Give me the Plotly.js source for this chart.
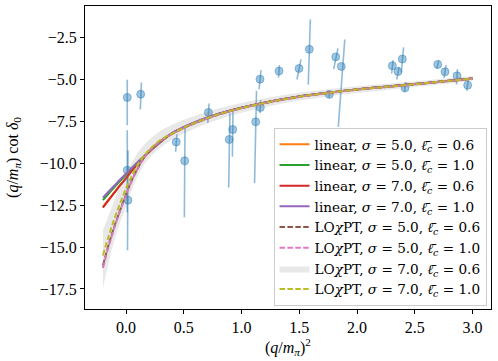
<!DOCTYPE html>
<html><head><meta charset="utf-8">
<script src="https://cdn.plot.ly/plotly-3.0.1.min.js"></script>
<style>html,body{margin:0;padding:0;background:#fff}#chart{width:498px;height:361px}</style>
</head><body><div id="chart"></div>
<script>
// lattice data points
const ptX = [0.011, 0.127, 0.011, 0.017, 0.435, 0.508, 0.713, 0.894, 0.924, 1.123, 1.163, 1.160, 1.325, 1.498, 1.587, 1.760, 1.816, 1.864, 2.306, 2.355, 2.392, 2.416, 2.699, 2.762, 2.866, 2.958];
const ptY = [-6.06, -5.87, -10.41, -12.20, -8.72, -9.85, -6.96, -8.57, -7.98, -7.52, -6.66, -4.97, -4.49, -4.33, -3.19, -5.88, -3.64, -4.21, -4.17, -4.51, -3.77, -5.49, -4.09, -4.53, -4.77, -5.33];
// correlated uncertainty segments (upper and lower ends)
const errHiX = [0.011, 0.133, 0.011, 0.017, 0.441, 0.511, 0.719, 0.900, 0.926, 1.130, 1.166, 1.169, 1.329, 1.515, 1.596, 1.762, 1.835, 1.894, 2.312, 2.364, 2.403, 2.422, 2.708, 2.771, 2.870, 2.966];
const errHiY = [-5.00, -5.17, -8.02, -9.21, -8.26, -7.90, -6.42, -7.00, -6.82, -5.67, -6.22, -4.43, -4.13, -3.79, -1.40, -5.68, -3.13, -2.60, -3.83, -4.23, -3.07, -5.13, -3.83, -4.13, -4.37, -4.93];
const errLoX = [0.011, 0.124, 0.011, 0.013, 0.430, 0.505, 0.708, 0.889, 0.921, 1.113, 1.160, 1.152, 1.320, 1.480, 1.578, 1.758, 1.798, 1.838, 2.300, 2.344, 2.383, 2.410, 2.690, 2.753, 2.861, 2.949];
const errLoY = [-7.72, -6.78, -12.93, -15.19, -9.31, -13.22, -7.58, -11.44, -9.61, -11.17, -7.00, -5.57, -4.87, -4.99, -5.29, -6.07, -4.37, -7.82, -4.63, -4.99, -4.57, -5.76, -4.37, -4.89, -5.29, -5.67];

// fitted curves
const curveX = [-0.2, -0.15, -0.1, -0.05, 0, 0.05, 0.1, 0.15, 0.2, 0.3, 0.4, 0.5, 0.6, 0.8, 1.0, 1.25, 1.5, 1.75, 2.0, 2.25, 2.5, 2.75, 3.0];
const linS5L06 = [-12.6, -12.15, -11.72, -11.28, -10.88, -10.44, -10.04, -9.66, -9.31, -8.71, -8.2, -7.85, -7.55, -7.05, -6.68, -6.3, -6.0, -5.78, -5.58, -5.42, -5.26, -5.1, -4.93];
const linS5L10 = [-12.2, -11.8, -11.42, -11.04, -10.68, -10.3, -9.95, -9.62, -9.3, -8.7, -8.2, -7.85, -7.55, -7.05, -6.68, -6.3, -6.0, -5.78, -5.58, -5.42, -5.26, -5.1, -4.93];
const linS7L06 = [-12.65, -12.2, -11.75, -11.3, -10.9, -10.45, -10.05, -9.67, -9.32, -8.72, -8.2, -7.85, -7.55, -7.05, -6.68, -6.3, -6.0, -5.78, -5.58, -5.42, -5.26, -5.1, -4.93];
const linS7L10 = [-12.05, -11.68, -11.32, -10.96, -10.62, -10.27, -9.93, -9.6, -9.29, -8.69, -8.18, -7.83, -7.53, -7.04, -6.67, -6.3, -6.0, -5.78, -5.58, -5.42, -5.26, -5.1, -4.93];
const loS5L06 = [-16.1, -14.85, -13.75, -12.78, -11.85, -11.02, -10.32, -9.72, -9.27, -8.64, -8.24, -7.89, -7.59, -7.09, -6.71, -6.33, -6.03, -5.8, -5.6, -5.44, -5.28, -5.11, -4.95];
const loS5L10 = [-16.25, -14.95, -13.82, -12.82, -11.88, -11.04, -10.33, -9.73, -9.27, -8.64, -8.24, -7.89, -7.59, -7.09, -6.71, -6.33, -6.03, -5.8, -5.6, -5.44, -5.28, -5.11, -4.95];
const loS7L06Lo = [-17.5, -15.9, -14.6, -13.5, -12.6, -11.6, -10.8, -10.15, -9.7, -9.05, -8.58, -8.22, -7.9, -7.38, -6.98, -6.58, -6.25, -6.0, -5.8, -5.62, -5.44, -5.26, -5.1];
const loS7L06Hi = [-14.0, -13.1, -12.2, -11.3, -10.6, -9.95, -9.4, -8.95, -8.6, -8.05, -7.7, -7.4, -7.15, -6.73, -6.4, -6.05, -5.78, -5.57, -5.39, -5.24, -5.09, -4.94, -4.78];
const loS7L10 = [-15.5, -14.35, -13.3, -12.38, -11.5, -10.75, -10.1, -9.6, -9.2, -8.6, -8.22, -7.87, -7.57, -7.07, -6.7, -6.32, -6.02, -5.79, -5.59, -5.43, -5.27, -5.1, -4.94];

const labels = [
  'linear, <i>σ</i> = 5.0, <i>ℓ̄</i><sub><i>c</i></sub> = 0.6',
  'linear, <i>σ</i> = 5.0, <i>ℓ̄</i><sub><i>c</i></sub> = 1.0',
  'linear, <i>σ</i> = 7.0, <i>ℓ̄</i><sub><i>c</i></sub> = 0.6',
  'linear, <i>σ</i> = 7.0, <i>ℓ̄</i><sub><i>c</i></sub> = 1.0',
  'LO<i>χ</i>PT, <i>σ</i> = 5.0, <i>ℓ̄</i><sub><i>c</i></sub> = 0.6',
  'LO<i>χ</i>PT, <i>σ</i> = 5.0, <i>ℓ̄</i><sub><i>c</i></sub> = 1.0',
  'LO<i>χ</i>PT, <i>σ</i> = 7.0, <i>ℓ̄</i><sub><i>c</i></sub> = 0.6',
  'LO<i>χ</i>PT, <i>σ</i> = 7.0, <i>ℓ̄</i><sub><i>c</i></sub> = 1.0'
];
const xTitle = '(<i>q</i>/<i>m</i><sub><i>π</i></sub>)<sup>2</sup>';
const yTitle = '(<i>q</i>/<i>m</i><sub><i>π</i></sub>) cot <i>δ</i><sub>0</sub>';

const blueA = 'rgba(31,119,180,0.42)';
const segX = [], segY = [];
for (let i = 0; i < ptX.length; i++) {
  segX.push(errLoX[i], errHiX[i], null);
  segY.push(errLoY[i], errHiY[i], null);
}
const traces = [];
traces.push({x: segX, y: segY, mode: 'lines', line: {color: 'rgba(31,119,180,0.5)', width: 1.6}, showlegend: false, hoverinfo: 'skip'});
traces.push({x: ptX, y: ptY, mode: 'markers', marker: {size: 8, color: blueA, line: {color: blueA, width: 1}}, showlegend: false});

function line(y, color, name, dash) {
  return {x: curveX, y: y, mode: 'lines', name: name,
    line: {color: color, width: 2, shape: 'spline', dash: dash || 'solid'}};
}
const dsh = '5.5px,2.4px';
traces.push(line(linS5L06, '#ff7f0e', labels[0]));
traces.push(line(linS5L10, '#2ca02c', labels[1]));
traces.push(line(linS7L06, '#d62728', labels[2]));
traces.push(line(linS7L10, '#9467bd', labels[3]));
traces.push(line(loS5L06, '#8c564b', labels[4], dsh));
traces.push(line(loS5L10, '#e377c2', labels[5], dsh));
traces.push({x: curveX, y: loS7L06Lo, mode: 'lines', line: {width: 0, shape: 'spline'}, showlegend: false, hoverinfo: 'skip'});
traces.push({x: curveX, y: loS7L06Hi, mode: 'lines', fill: 'tonexty', fillcolor: 'rgba(128,128,128,0.18)',
  line: {width: 0, shape: 'spline', color: 'rgba(128,128,128,0.18)'}, name: labels[6]});
traces.push(line(loS7L10, '#bcbd22', labels[7], dsh));

const fam = 'Liberation Serif, DejaVu Serif, serif';
const fnt = {family: fam, size: 16, color: '#000'};
const layout = {
  width: 498, height: 361,
  margin: {l: 85, r: 7, t: 6, b: 52},
  paper_bgcolor: '#fff', plot_bgcolor: '#fff',
  font: fnt,
  showlegend: true,
  legend: {x: 0.989, y: 0.01, xanchor: 'right', yanchor: 'bottom', traceorder: 'normal',
    bgcolor: 'rgba(255,255,255,0.85)', bordercolor: '#cccccc', borderwidth: 1,
    font: {family: 'DejaVu Serif, serif', size: 13.6, color: '#000'},
    itemwidth: 30, tracegroupgap: 0},
  xaxis: {range: [-0.355, 3.16], showgrid: false, zeroline: false, showline: true, mirror: true,
    linecolor: '#000', linewidth: 1, ticks: 'outside', ticklen: 4, tickcolor: '#000',
    tickvals: [0, 0.5, 1, 1.5, 2, 2.5, 3], tickformat: '.1f', tickfont: fnt},
  yaxis: {range: [-18.7, -0.6], showgrid: false, zeroline: false, showline: true, mirror: true,
    linecolor: '#000', linewidth: 1, ticks: 'outside', ticklen: 4, tickcolor: '#000',
    tickvals: [-17.5, -15, -12.5, -10, -7.5, -5, -2.5], tickformat: '.1f', tickfont: fnt,
    title: {text: yTitle, font: fnt, standoff: 17}},
  annotations: [{text: xTitle, xref: 'paper', yref: 'paper', x: 0.5, y: -0.082,
    xanchor: 'center', yanchor: 'top', showarrow: false, font: fnt}]
};
Plotly.newPlot('chart', traces, layout, {displayModeBar: false, staticPlot: true});
</script></body></html>
